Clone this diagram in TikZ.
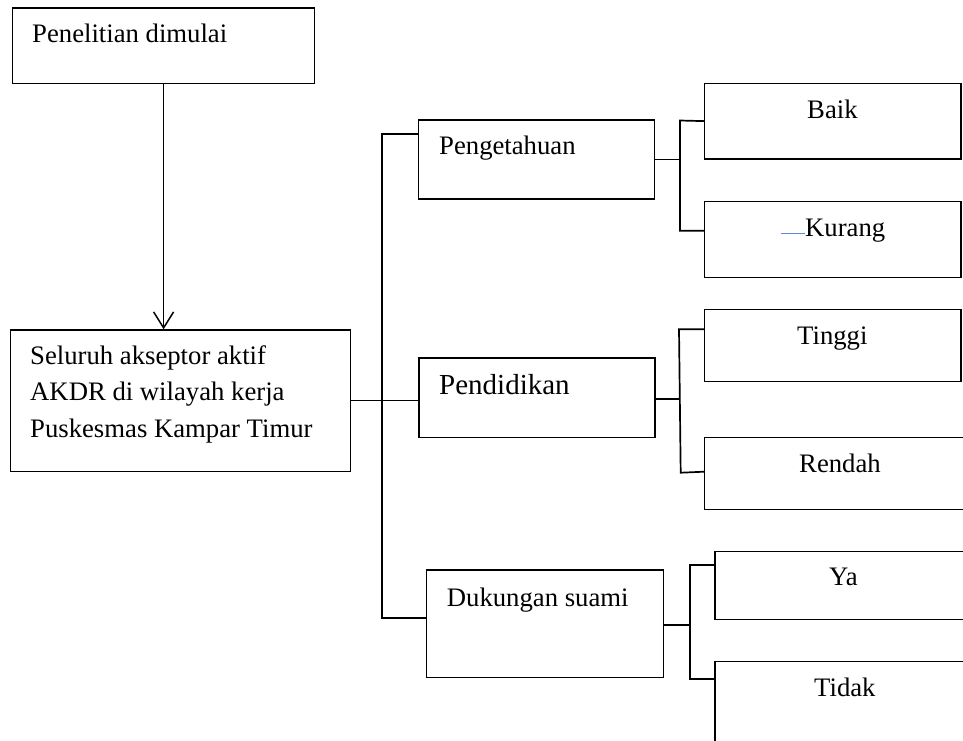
\documentclass[tikz,border=0pt]{standalone}
\usepackage{fontspec}
\setmainfont{Liberation Serif}
\usetikzlibrary{arrows.meta}
\definecolor{wordblue}{RGB}{91,140,205}
\tikzset{
  box/.style={draw=black, line width=1.2pt, rectangle, inner sep=0pt, anchor=north west},
  conn/.style={draw=black, line width=1.7pt},
  lbl/.style={inner sep=0pt, font=\fontsize{26.7}{36.5}\selectfont},
}
\begin{document}
\begin{tikzpicture}[x=1pt,y=-1pt]
\useasboundingbox[fill=white] (0,0) rectangle (963,740);

% boxes
\node[box, minimum width=302pt, minimum height=75.4pt] (pen) at (12,7.3) {};
\node[box, minimum width=340pt, minimum height=141.4pt] (sel) at (10,329.3) {};
\node[box, minimum width=236pt, minimum height=79pt] (pgt) at (418,119.3) {};
\node[box, minimum width=236pt, minimum height=79.4pt] (pdd) at (418.3,357.3) {};
\node[box, minimum width=236.5pt, minimum height=107.4pt] (duk) at (426,569.3) {};
\node[box, minimum width=256.3pt, minimum height=75.6pt] (baik) at (704,82.7) {};
\node[box, minimum width=256.3pt, minimum height=76pt] (kurang) at (704,201) {};
\node[box, minimum width=256.3pt, minimum height=71.7pt] (tinggi) at (704,309) {};
\node[box, minimum width=271pt, minimum height=71.8pt] (rendah) at (704,436.7) {};
\node[box, minimum width=261pt, minimum height=68.2pt] (ya) at (714.3,550.8) {};
\node[box, minimum width=261pt, minimum height=99pt] (tidak) at (714.3,661) {};

% texts
\node[lbl, anchor=base west] (tpen) at (32,42.7) {Penelitian dimulai};
\node[lbl, anchor=north west, align=left] (tsel) at (30,345) {Seluruh akseptor aktif\\AKDR di wilayah kerja\\Puskesmas Kampar Timur};
\node[lbl, anchor=base west] (tpgt) at (439,154.3) {Pengetahuan};
\node[lbl, anchor=base west, font=\fontsize{29}{36}\selectfont] (tpdd) at (439,394.3) {Pendidikan};
\node[lbl, anchor=base west] (tduk) at (446.7,606.7) {Dukungan suami};
\node[lbl, anchor=base west] (tbaik) at (807,118.3) {Baik};
\node[lbl, anchor=base west] (tkurang) at (805,236) {Kurang};
\node[lbl, anchor=base west] (ttinggi) at (797,344) {Tinggi};
\node[lbl, anchor=base west] (trendah) at (799,472.5) {Rendah};
\node[lbl, anchor=base west] (tya) at (829,585.7) {Ya};
\node[lbl, anchor=base west] (ttidak) at (814,696) {Tidak};

% small blue mark before Kurang
\coordinate (bm) at (780.7,233.3);
\draw[wordblue, line width=1.3pt] (bm) -- (tkurang.west |- bm);

% arrow
\draw[conn, -{Straight Barb[length=16pt,width=20pt,line width=1.5pt]}] (pen.south) -- (pen.south |- sel.north);

% main bus
\coordinate (bt) at (381.7,134);
\coordinate (bb) at (381.7,617.7);
\draw[conn] (pgt.west |- bt) -- (bt) -- (bb) -- (bb -| duk.west);
\draw[conn] (sel.east) -- (sel.east -| pdd.west);

% Pengetahuan branches
\coordinate (k1) at (680,120.5);
\coordinate (k2) at (680,230.7);
\draw[conn] (pgt.east) -- (pgt.east -| k1);
\draw[conn] (baik.west) -- (k1) -- (k2) -- (k2 -| kurang.west);

% Pendidikan branches
\coordinate (p0) at (679,399);
\coordinate (p1) at (679,329.3);
\coordinate (p2) at (680.7,472.7);
\coordinate (p3) at (704,471.7);
\draw[conn] (pdd.east |- p0) -- (p0);
\draw[conn] (p1 -| tinggi.west) -- (p1) -- (p2) -- (p3);

% Dukungan branches
\coordinate (d0) at (690,625);
\coordinate (d1) at (690,565);
\coordinate (d2) at (690,679);
\draw[conn] (duk.east |- d0) -- (d0);
\draw[conn] (d1 -| ya.west) -- (d1) -- (d2) -- (d2 -| tidak.west);
\end{tikzpicture}
\end{document}
